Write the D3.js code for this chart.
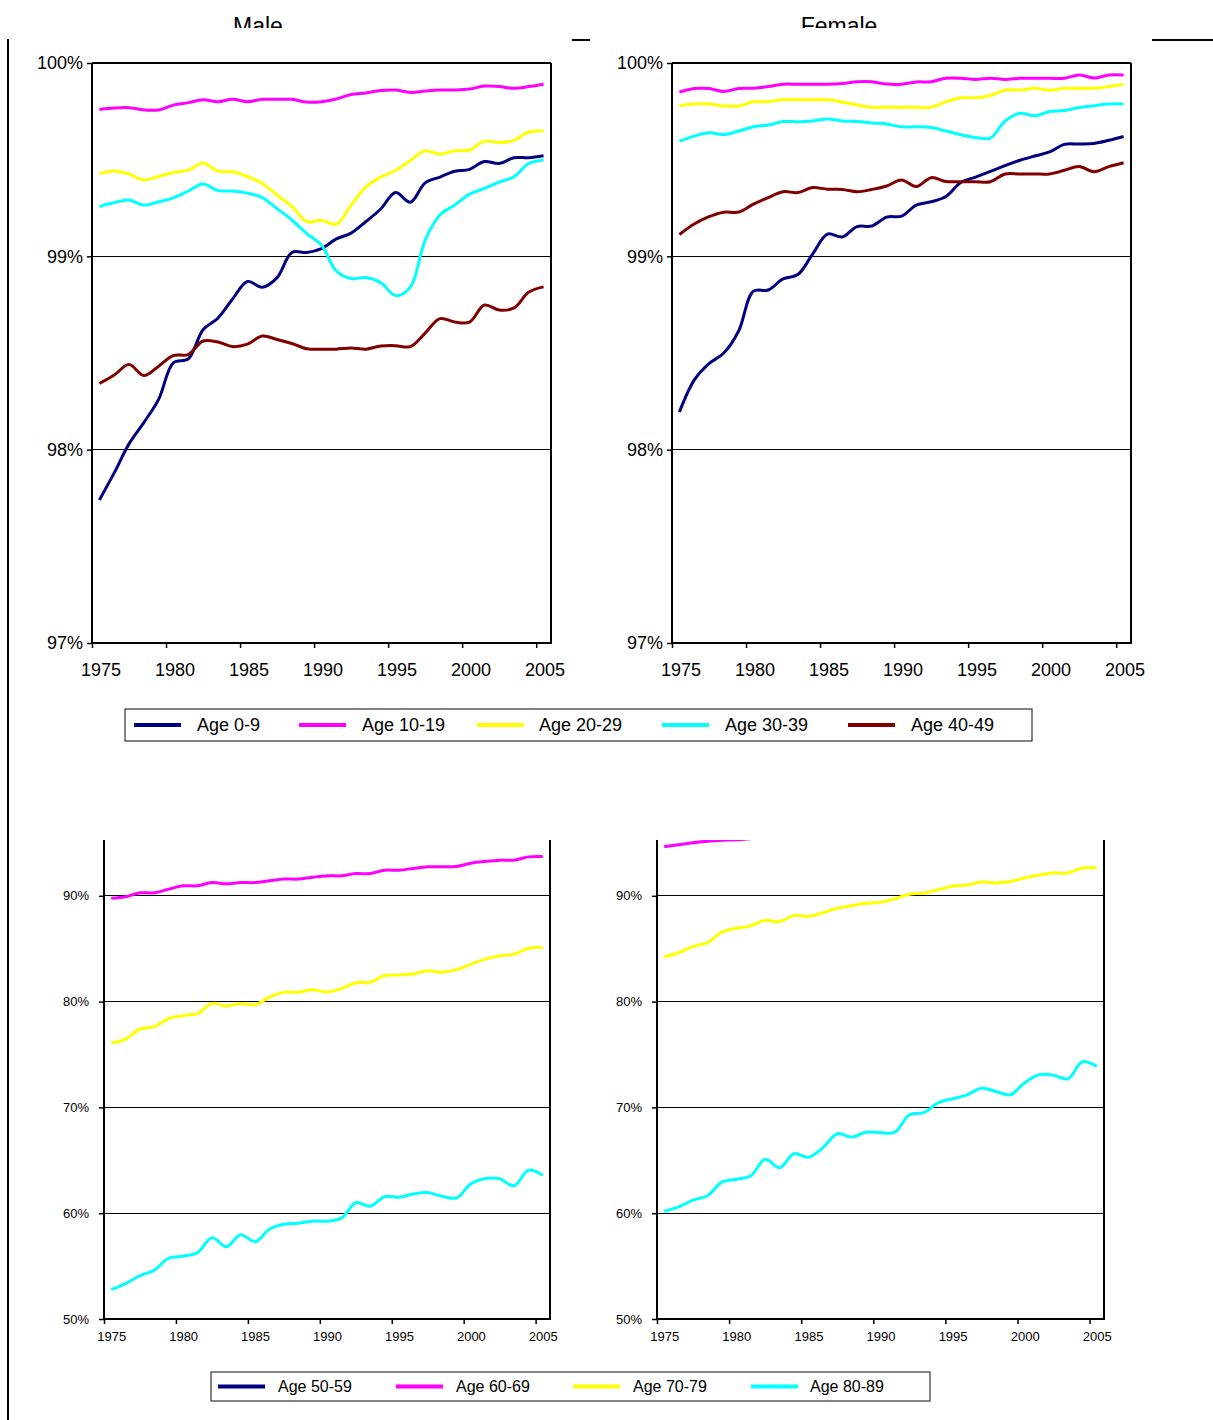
<!DOCTYPE html>
<html>
<head>
<meta charset="utf-8">
<script src="https://cdn.jsdelivr.net/npm/d3@7"></script>
<style>
  body { margin: 0; background: #fff; }
  svg { display: block; }
  text { font-family: "Liberation Sans", Arial, sans-serif; fill: #000; }
</style>
</head>
<body>
<svg id="chart" width="1213" height="1420"></svg>
<script>
// ---- data: share surviving per year, by sex and age band (percent) ----
const years = d3.range(1975, 2006);
const yearTicks = [1975, 1980, 1985, 1990, 1995, 2000, 2005];
const upperTicks = [97, 98, 99, 100];
const lowerTicks = [50, 60, 70, 80, 90];
const titles = ["Male", "Female"];

const youngGroups = ["Age 0-9", "Age 10-19", "Age 20-29", "Age 30-39", "Age 40-49"];
const oldGroups = ["Age 50-59", "Age 60-69", "Age 70-79", "Age 80-89"];
const youngColors = ["#000080", "#FF00FF", "#FFFF00", "#00FFFF", "#800000"];
const oldColors = ["#000080", "#FF00FF", "#FFFF00", "#00FFFF"];

// Male, ages 0-49
const male0_9 = [97.74, 97.88, 98.03, 98.14, 98.26, 98.45, 98.47, 98.62, 98.68, 98.78, 98.87,
  98.84, 98.89, 99.02, 99.02, 99.04, 99.09, 99.12, 99.18, 99.245, 99.33, 99.28, 99.38, 99.41,
  99.44, 99.45, 99.49, 99.48, 99.51, 99.51, 99.52];
const male10_19 = [99.76, 99.767, 99.769, 99.757, 99.757, 99.782, 99.795, 99.81, 99.80, 99.812, 99.80,
  99.812, 99.812, 99.812, 99.798, 99.80, 99.814, 99.837, 99.845, 99.858, 99.86, 99.848, 99.855, 99.86,
  99.86, 99.865, 99.881, 99.878, 99.869, 99.878, 99.89];
const male20_29 = [99.428, 99.442, 99.426, 99.395, 99.413, 99.434, 99.446, 99.483, 99.441, 99.438, 99.413,
  99.377, 99.317, 99.258, 99.18, 99.186, 99.166, 99.265, 99.359, 99.41, 99.444, 99.496, 99.546, 99.529,
  99.546, 99.55, 99.596, 99.589, 99.60, 99.643, 99.648];
const male30_39 = [99.258, 99.278, 99.291, 99.265, 99.282, 99.302, 99.338, 99.374, 99.34, 99.338, 99.327,
  99.304, 99.247, 99.188, 99.118, 99.058, 98.924, 98.885, 98.89, 98.864, 98.797, 98.841, 99.084, 99.214,
  99.265, 99.322, 99.351, 99.384, 99.412, 99.48, 99.498];
const male40_49 = [98.342, 98.386, 98.44, 98.383, 98.432, 98.487, 98.492, 98.562, 98.557, 98.533, 98.546,
  98.588, 98.57, 98.549, 98.522, 98.519, 98.52, 98.526, 98.52, 98.536, 98.538, 98.533, 98.603, 98.678,
  98.66, 98.66, 98.748, 98.722, 98.733, 98.815, 98.842];

// Female, ages 0-49
const female0_9 = [98.195, 98.36, 98.445, 98.50, 98.614, 98.82, 98.826, 98.883, 98.906, 99.012, 99.115,
  99.10, 99.154, 99.157, 99.203, 99.208, 99.265, 99.282, 99.309, 99.382, 99.41, 99.439, 99.469, 99.497,
  99.519, 99.54, 99.579, 99.581, 99.584, 99.60, 99.62];
const female10_19 = [99.85, 99.868, 99.868, 99.853, 99.868, 99.87, 99.878, 99.89, 99.89, 99.89, 99.89,
  99.894, 99.903, 99.903, 99.891, 99.89, 99.902, 99.903, 99.921, 99.921, 99.915, 99.921, 99.915, 99.921,
  99.921, 99.921, 99.921, 99.938, 99.922, 99.938, 99.938];
const female20_29 = [99.779, 99.788, 99.788, 99.778, 99.778, 99.80, 99.80, 99.811, 99.81, 99.81, 99.81,
  99.798, 99.783, 99.771, 99.771, 99.771, 99.771, 99.771, 99.80, 99.82, 99.82, 99.832, 99.86, 99.86,
  99.869, 99.859, 99.869, 99.869, 99.869, 99.878, 99.89];
const female30_39 = [99.596, 99.622, 99.639, 99.63, 99.648, 99.67, 99.679, 99.697, 99.696, 99.70, 99.71,
  99.70, 99.698, 99.69, 99.684, 99.67, 99.67, 99.666, 99.648, 99.629, 99.615, 99.612, 99.70, 99.74,
  99.727, 99.749, 99.754, 99.77, 99.779, 99.788, 99.788];
const female40_49 = [99.113, 99.167, 99.205, 99.228, 99.229, 99.27, 99.304, 99.334, 99.33, 99.356, 99.347,
  99.346, 99.334, 99.346, 99.364, 99.395, 99.361, 99.407, 99.387, 99.386, 99.386, 99.386, 99.426, 99.426,
  99.426, 99.426, 99.445, 99.465, 99.438, 99.464, 99.484];

// Male, ages 50-89 (the 50-59 band runs above the visible range)
const male50_59 = [];
const male60_69 = [89.76, 89.91, 90.28, 90.28, 90.63, 90.94, 90.94, 91.25, 91.13, 91.25, 91.25,
  91.42, 91.58, 91.58, 91.75, 91.89, 91.89, 92.10, 92.10, 92.42, 92.42, 92.59, 92.74, 92.74,
  92.78, 93.08, 93.25, 93.37, 93.37, 93.68, 93.71];
const male70_79 = [76.07, 76.46, 77.41, 77.64, 78.40, 78.68, 78.87, 79.83, 79.58, 79.83, 79.70,
  80.42, 80.88, 80.88, 81.13, 80.90, 81.23, 81.79, 81.82, 82.47, 82.52, 82.61, 82.92, 82.78,
  83.02, 83.54, 84.01, 84.34, 84.48, 85.05, 85.12];
const male80_89 = [52.78, 53.35, 54.10, 54.62, 55.75, 55.94, 56.27, 57.69, 56.84, 57.97, 57.31,
  58.49, 58.96, 59.06, 59.25, 59.25, 59.53, 60.99, 60.66, 61.56, 61.51, 61.82, 61.95, 61.60,
  61.44, 62.78, 63.27, 63.25, 62.59, 64.06, 63.58];

// Female, ages 50-89 (50-59 and most of 60-69 run above the visible range)
const female50_59 = [];
const female60_69 = [94.64, 94.83, 95.02, 95.16, 95.26, 95.30, 95.40];
const female70_79 = [84.24, 84.62, 85.22, 85.57, 86.56, 86.94, 87.17, 87.69, 87.55, 88.15, 88.07,
  88.40, 88.83, 89.06, 89.30, 89.38, 89.73, 90.15, 90.25, 90.58, 90.91, 91.02, 91.30, 91.21,
  91.36, 91.68, 91.97, 92.16, 92.16, 92.63, 92.63];
const female80_89 = [60.19, 60.59, 61.23, 61.65, 62.93, 63.21, 63.54, 65.10, 64.30, 65.62, 65.29,
  66.19, 67.51, 67.20, 67.66, 67.61, 67.67, 69.31, 69.50, 70.44, 70.82, 71.18, 71.81, 71.51,
  71.20, 72.33, 73.09, 73.04, 72.70, 74.32, 73.88];

// ---- drawing ----
const svg = d3.select("#chart");
const font = '"Liberation Sans", Arial, sans-serif';

function panel(id, box, yDomain, yRange, ticks, fontSize, seriesList, colors, fullFrame) {
  const g = svg.append("g");
  // category axis: one band per year, ticks on band edges, labels on band centres
  const x = d3.scaleLinear().domain([1974.5, 2005.5]).range([box.x0, box.x1]);
  const half = (box.x1 - box.x0) / 31 / 2;
  const y = d3.scaleLinear().domain(yDomain).range(yRange);

  // horizontal gridlines
  g.append("g").selectAll("line").data(ticks.slice(1)).join("line")
    .attr("x1", box.x0).attr("x2", box.x1)
    .attr("y1", d => y(d)).attr("y2", d => y(d))
    .attr("stroke", "#000").attr("stroke-width", 1).attr("shape-rendering", "crispEdges");

  // series
  const clipId = "clip-" + id;
  svg.append("clipPath").attr("id", clipId).append("rect")
    .attr("x", box.x0).attr("y", box.top).attr("width", box.x1 - box.x0).attr("height", box.bottom - box.top);
  const line = d3.line()
    .defined(d => d.v != null)
    .x(d => x(d.year)).y(d => y(d.v))
    .curve(d3.curveCatmullRom.alpha(0.5));
  const lg = g.append("g").attr("clip-path", `url(#${clipId})`);
  seriesList.forEach((vals, i) => {
    if (!vals.length) return;
    const pts = vals.map((v, k) => ({ year: years[k], v }));
    lg.append("path").datum(pts)
      .attr("d", line)
      .attr("fill", "none")
      .attr("stroke", colors[i])
      .attr("stroke-width", 3)
      .attr("stroke-linejoin", "round");
  });

  // frame
  if (fullFrame) {
    g.append("line").attr("x1", box.x0).attr("x2", box.x1).attr("y1", box.top).attr("y2", box.top)
      .attr("stroke", "#000").attr("stroke-width", 2);
  }
  g.append("line").attr("x1", box.x1).attr("x2", box.x1).attr("y1", box.top).attr("y2", box.bottom)
    .attr("stroke", "#000").attr("stroke-width", 2);

  // y axis
  const ya = g.append("g").attr("transform", `translate(${box.x0},0)`)
    .call(d3.axisLeft(y).tickValues(ticks).tickFormat(d => d + "%").tickSize(5).tickSizeOuter(0));
  ya.select(".domain").remove();
  ya.selectAll(".tick line").attr("stroke", "#000").attr("stroke-width", 1.5);
  ya.selectAll(".tick text").attr("font-family", font).attr("font-size", fontSize)
    .attr("x", -box.labelGap).attr("fill", "#000");
  g.append("line").attr("x1", box.x0).attr("x2", box.x0).attr("y1", box.top).attr("y2", box.bottom + 1)
    .attr("stroke", "#000").attr("stroke-width", 2);

  // x axis
  const xa = g.append("g").attr("transform", `translate(0,${box.bottom})`)
    .call(d3.axisBottom(x).tickValues(yearTicks).tickFormat(d3.format("d")).tickSize(5).tickSizeOuter(0));
  xa.select(".domain").remove();
  xa.selectAll(".tick line").attr("x1", -half).attr("x2", -half).attr("stroke", "#000").attr("stroke-width", 1.5);
  xa.selectAll(".tick text").attr("font-family", font).attr("font-size", fontSize)
    .attr("dx", box.labelShift).attr("y", box.xLabelY).attr("fill", "#000");
  g.append("line").attr("x1", box.x0 - 1).attr("x2", box.x1 + 1).attr("y1", box.bottom).attr("y2", box.bottom)
    .attr("stroke", "#000").attr("stroke-width", 2);
}

// upper row: ages 0-49
const upperY = [97, 100];
const upperR = [643, 63];
panel("m-young", { x0: 92, x1: 551, top: 63, bottom: 643, labelGap: 9, labelShift: 1, xLabelY: 20 },
  upperY, upperR, upperTicks, 18,
  [male0_9, male10_19, male20_29, male30_39, male40_49], youngColors, true);
panel("f-young", { x0: 672, x1: 1131, top: 63, bottom: 643, labelGap: 9, labelShift: 1, xLabelY: 20 },
  upperY, upperR, upperTicks, 18,
  [female0_9, female10_19, female20_29, female30_39, female40_49], youngColors, true);

// lower row: ages 50-89, plot area cut off just above 95%
const lowerY = [50, 100];
const lowerR = [1319, 1319 - 50 * 10.58];
panel("m-old", { x0: 104, x1: 550, top: 840, bottom: 1319, labelGap: 15, labelShift: 0, xLabelY: 13 },
  lowerY, lowerR, lowerTicks, 13,
  [male50_59, male60_69, male70_79, male80_89], oldColors, false);
panel("f-old", { x0: 657, x1: 1104, top: 840, bottom: 1319, labelGap: 15, labelShift: 0, xLabelY: 13 },
  lowerY, lowerR, lowerTicks, 13,
  [female50_59, female60_69, female70_79, female80_89], oldColors, false);

// panel titles, trimmed by the page edge band
svg.append("clipPath").attr("id", "title-clip").append("rect")
  .attr("x", 0).attr("y", 0).attr("width", 1213).attr("height", 28);
svg.append("g").attr("clip-path", "url(#title-clip)")
  .selectAll("text").data(titles).join("text")
  .attr("x", (d, i) => i === 0 ? 258 : 839)
  .attr("y", 34)
  .attr("text-anchor", "middle")
  .attr("font-family", font).attr("font-size", 23)
  .text(d => d);

// page frame fragments
svg.append("line").attr("x1", 8).attr("x2", 8).attr("y1", 39).attr("y2", 1420)
  .attr("stroke", "#000").attr("stroke-width", 2);
svg.append("line").attr("x1", 572).attr("x2", 590).attr("y1", 40).attr("y2", 40)
  .attr("stroke", "#000").attr("stroke-width", 2);
svg.append("line").attr("x1", 1152).attr("x2", 1213).attr("y1", 40).attr("y2", 40)
  .attr("stroke", "#000").attr("stroke-width", 2);

// legends
function legend(box, names, colors, sampleX, textX, fontSize) {
  const g = svg.append("g");
  g.append("rect").attr("x", box.x).attr("y", box.y).attr("width", box.w).attr("height", box.h)
    .attr("fill", "#fff").attr("stroke", "#333").attr("stroke-width", 1.2);
  const cy = box.y + box.h / 2;
  const items = g.selectAll("g.item").data(names).join("g").attr("class", "item");
  items.append("line")
    .attr("x1", (d, i) => sampleX[i]).attr("x2", (d, i) => sampleX[i] + 47)
    .attr("y1", cy).attr("y2", cy)
    .attr("stroke", (d, i) => colors[i]).attr("stroke-width", 4);
  items.append("text")
    .attr("x", (d, i) => textX[i]).attr("y", cy)
    .attr("dy", "0.35em")
    .attr("font-family", font).attr("font-size", fontSize)
    .text(d => d);
}
legend({ x: 125, y: 709, w: 907, h: 32 }, youngGroups, youngColors,
  [134, 299, 477, 662, 848], [197, 362, 539, 725, 911], 18);
legend({ x: 211, y: 1372, w: 719, h: 29 }, oldGroups, oldColors,
  [218, 396, 573, 751], [278, 456, 633, 810], 16);
</script>
</body>
</html>
